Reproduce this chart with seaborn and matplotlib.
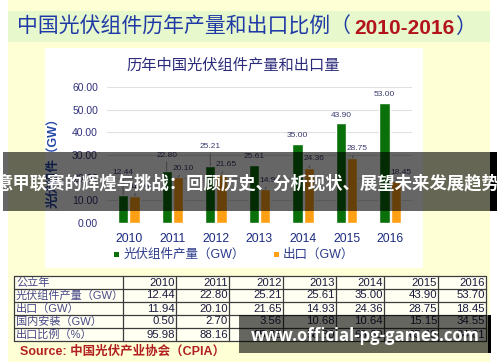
import matplotlib
matplotlib.use('Agg')
import matplotlib.pyplot as plt
import seaborn as sns
import pandas as pd
from matplotlib.patches import Rectangle

# ---------------- data ----------------
years = ['2010', '2011', '2012', '2013', '2014', '2015', '2016']
production = [12.44, 22.80, 25.21, 25.61, 35.00, 43.90, 53.00]
export = [11.94, 20.10, 21.65, 14.93, 24.36, 28.75, 18.45]
table_production = [12.44, 22.80, 25.21, 25.61, 35.00, 43.90, 53.70]
table_export = [11.94, 20.10, 21.65, 14.93, 24.36, 28.75, 18.45]
domestic = [0.50, 2.70, 3.56, 10.68, 10.64, 15.15, 34.55]
export_ratio = [95.98, 88.16, 85.88, 58.30, 69.60, 65.49, 34.81]
series_names = ['光伏组件产量（GW）', '出口（GW）']
row_labels = ['公立年', '光伏组件产量（GW）', '出口（GW）', '国内安装（GW）', '出口比例（%）']
yticks = [0, 10, 20, 30, 40, 50, 60]

title_main = '中国光伏组件历年产量和出口比例（'
title_years = '2010-2016'
title_end = '）'
chart_title = '历年中国光伏组件产量和出口量'
ylabel = '光伏组件（GW）'
source_text = 'Source: 中国光伏产业协会（CPIA）'
banner_text = '意甲联赛的辉煌与挑战：回顾历史、分析现状、展望未来发展趋势'
url_text = 'www.official-pg-games.com'

# ---------------- style ----------------
sns.set_style('white')
plt.rcParams['font.family'] = ['Liberation Sans', 'Noto Sans CJK SC', 'DejaVu Sans']
CJK = ['Noto Sans CJK SC', 'DejaVu Sans']

GREEN = '#0a700a'
ORANGE = '#ffa014'
LABEL_TXT = '#3b3b72'

W, H = 500, 362
fig = plt.figure(figsize=(W / 100, H / 100), dpi=100)
fig.patch.set_facecolor('white')


def fx(x):
    return x / W


def fy(y):
    return 1 - y / H


def rect(x0, y0, x1, y1, **kw):
    fig.patches.append(Rectangle((fx(x0), fy(y1)), (x1 - x0) / W, (y1 - y0) / H,
                                 transform=fig.transFigure, **kw))


# backgrounds
rect(8, 0, 490, 362, facecolor='#ffffd6', edgecolor='none', zorder=-3)
rect(8, 11, 490, 42, facecolor='#e6f8cc', edgecolor='none', zorder=-2)
rect(45, 48, 423, 268, facecolor='white', edgecolor='none', zorder=-2)

# ---------------- bar chart ----------------
ax = fig.add_axes([fx(107), fy(223), (412 - 107) / W, (223 - 87) / H])
ax.set_facecolor('none')
df = pd.DataFrame({
    'year': years * 2,
    'value': production + export,
    'series': [series_names[0]] * len(years) + [series_names[1]] * len(years),
})
sns.barplot(data=df, x='year', y='value', hue='series', palette=[GREEN, ORANGE],
            width=0.52, gap=0.1, saturation=1, errorbar=None, legend=False, ax=ax)
ax.set_ylim(0, 60)
ax.set_yticks(yticks)
ax.set_yticklabels([f'{v:.2f}' for v in yticks])
ax.yaxis.grid(True, color='#e0e0e0', lw=0.8)
ax.xaxis.grid(False)
ax.set_axisbelow(True)
for s in ax.spines.values():
    s.set_visible(False)
ax.tick_params(axis='both', length=0)
ax.tick_params(axis='y', pad=6.5, labelsize=7.5, labelcolor='#30307a')
ax.tick_params(axis='x', pad=7.5, labelsize=8.7, labelcolor='#1a2a80')
ax.set_xlabel('')
ax.set_ylabel('')

prod_dy_px = [22, 16, 19, 8, 8, 8, 8]
exp_dx_px, exp_dy_px = 5, 9
for bar, v, dy in zip(ax.containers[0], production, prod_dy_px):
    xc = bar.get_x() + bar.get_width() / 2
    ap = dict(arrowstyle='-', color='#909090', lw=0.6, shrinkA=0, shrinkB=0) if dy > 12 else None
    ax.annotate(f'{v:.2f}', xy=(xc, v), xytext=(0, dy * 0.72), textcoords='offset points',
                ha='center', va='center', fontsize=6, color=LABEL_TXT, arrowprops=ap,
                annotation_clip=False)
for bar, v in zip(ax.containers[1], export):
    xc = bar.get_x() + bar.get_width() / 2
    ax.annotate(f'{v:.2f}', xy=(xc, v), xytext=(exp_dx_px * 0.72, exp_dy_px * 0.72),
                textcoords='offset points', ha='center', va='center', fontsize=6,
                color=LABEL_TXT, annotation_clip=False,
                arrowprops=dict(arrowstyle='-', color='#909090', lw=0.6, shrinkA=0, shrinkB=0))

# ---------------- titles ----------------
renderer = fig.canvas.get_renderer()
t1 = fig.text(fx(17), fy(27), title_main, fontsize=15, color='#1f3aa6', va='center',
              ha='left', family=CJK)
bb = t1.get_window_extent(renderer)
t2 = fig.text(bb.x1 / W + 0.006, fy(28), title_years, fontsize=15, color='#b3141c',
              fontweight='bold', va='center', ha='left', family=['Liberation Sans'])
bb2 = t2.get_window_extent(renderer)
fig.text(bb2.x1 / W + 0.002, fy(27), title_end, fontsize=15, color='#1f3aa6', va='center',
         ha='left', family=CJK)

fig.text(fx(233.5), fy(65), chart_title, fontsize=11, color='#2b2b7a', ha='center',
         va='center', family=CJK)
fig.text(fx(53), fy(160), ylabel, fontsize=9, color='#2548a8', fontweight='bold',
         rotation=90, ha='center', va='center')

# ---------------- legend ----------------
rect(114, 252, 119, 257, facecolor=GREEN, edgecolor='none', zorder=2)
fig.text(fx(124), fy(255), series_names[0], fontsize=9, color='#2a3a8a', ha='left',
         va='center')
rect(274, 252, 279, 257, facecolor=ORANGE, edgecolor='none', zorder=2)
fig.text(fx(283), fy(255), series_names[1], fontsize=9, color='#2a3a8a', ha='left',
         va='center')

# ---------------- table ----------------
col_x = [14, 123, 176, 229, 283, 336, 384, 438, 486]
row_y = [276, 289, 302, 315, 328, 341]
rect(col_x[0], row_y[0], col_x[-1], row_y[-1], facecolor='#fffff2', edgecolor='none', zorder=1)
for x in col_x:
    fig.add_artist(plt.Line2D([fx(x), fx(x)], [fy(row_y[0]), fy(row_y[-1])],
                              color='#3c3c3c', lw=0.9, transform=fig.transFigure, zorder=2))
for y in row_y:
    fig.add_artist(plt.Line2D([fx(col_x[0]), fx(col_x[-1])], [fy(y), fy(y)],
                              color='#3c3c3c', lw=0.9, transform=fig.transFigure, zorder=2))

table_rows = [years,
              [f'{v:.2f}' for v in table_production],
              [f'{v:.2f}' for v in table_export],
              [f'{v:.2f}' for v in domestic],
              [f'{v:.2f}' for v in export_ratio]]
for r, (lab, vals) in enumerate(zip(row_labels, table_rows)):
    yc = (row_y[r] + row_y[r + 1]) / 2
    fig.text(fx(col_x[0] + 2), fy(yc), lab, fontsize=8, color='#4a4a8a', ha='left',
             va='center', zorder=3)
    for c, val in enumerate(vals):
        fig.text(fx(col_x[c + 2] - 1), fy(yc), val, fontsize=8.2, color='#1a1a40',
                 ha='right', va='center', zorder=3)

fig.text(fx(20), fy(352), source_text, fontsize=9, color='#b02020', fontweight='bold',
         ha='left', va='center')

# ---------------- overlays ----------------
rect(3, 152, 497, 211, facecolor='black', alpha=0.6, edgecolor='none', zorder=10)
rect(490, 152, 497, 211, facecolor='black', edgecolor='none', zorder=10)
fig.text(fx(247), fy(183), banner_text, fontsize=12.5, color='white', fontweight='bold',
         ha='center', va='center', family=CJK, zorder=11)

rect(239, 315, 490, 353, facecolor='black', alpha=0.6, edgecolor='none', zorder=10)
rect(488, 315, 491, 353, facecolor='black', edgecolor='none', zorder=10)
fig.text(fx(365), fy(336), url_text, fontsize=12, color='white', fontweight='bold',
         ha='center', va='center', family=['Open Sans', 'DejaVu Sans'], zorder=11)

fig.savefig('out.png', dpi=100)
